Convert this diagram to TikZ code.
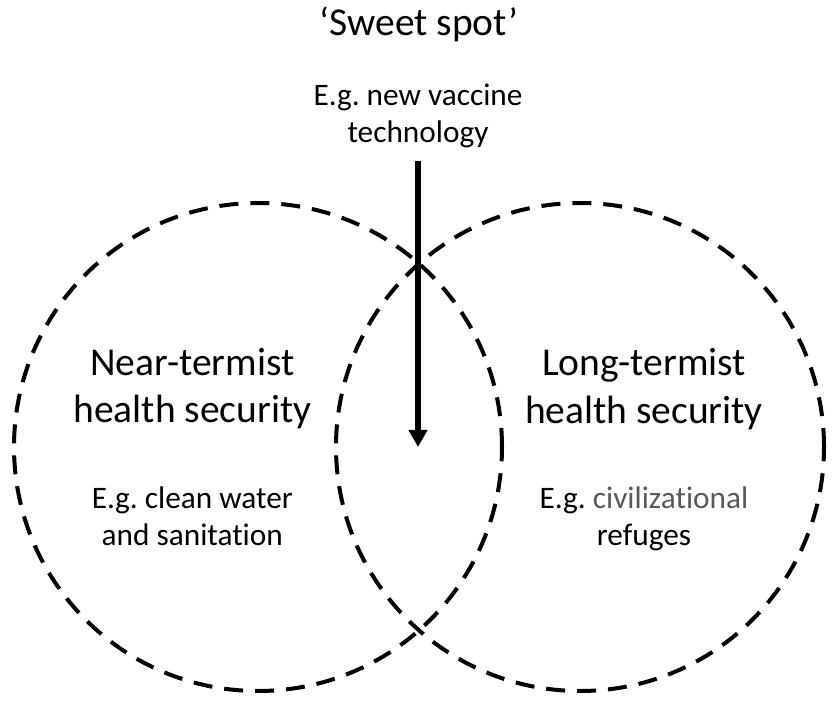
\documentclass[tikz,border=0pt]{standalone}
\usepackage{fontspec}
\setmainfont{Carlito}[Ligatures=NoCommon]
\usetikzlibrary{arrows.meta}
\definecolor{subgray}{RGB}{89,89,89}
\frenchspacing
\begin{document}
\begin{tikzpicture}[x=1pt,y=-1pt,
  venn/.style={circle, draw=black, line width=4pt, dash pattern=on 19pt off 12pt, minimum size=488pt, inner sep=0pt, outer sep=0pt},
  titletext/.style={font=\fontsize{39.5}{47.5}\selectfont, anchor=base, inner sep=0pt},
  subtext/.style={font=\fontsize{31.3}{38}\selectfont, anchor=base, inner sep=0pt},
  pointer/.style={line width=5.5pt, -{Triangle[width=18pt,length=17pt]}}]
\useasboundingbox (0,0) rectangle (836,711);
\node[venn] (nearc) at (258,447) {};
\node[venn] (longc) at (580,447) {};
\node[titletext] (sweet) at (419,36) {‘Sweet spot’};
\node[subtext] (vaccine1) at (418,105.5) {E.g. new vaccine};
\node[subtext] (vaccine2) at (418,142.5) {technology};
\node[titletext] (neart1) at (192.3,375.5) {Near-termist};
\node[titletext] (neart2) at (192.3,423) {health security};
\node[subtext] (nears1) at (192.3,508) {E.g. clean water};
\node[subtext] (nears2) at (192.3,545.5) {and sanitation};
\node[titletext] (longt1) at (644,376) {Long-termist};
\node[titletext] (longt2) at (644,423.5) {health security};
\node[subtext] (longs1) at (644,508) {E.g. \textcolor{subgray}{civilizational}};
\node[subtext] (longs2) at (644,545.5) {refuges};
\coordinate (astart) at (418,161);
\coordinate (aend) at (418,447);
\draw[pointer] (astart) -- (aend);
\end{tikzpicture}
\end{document}
